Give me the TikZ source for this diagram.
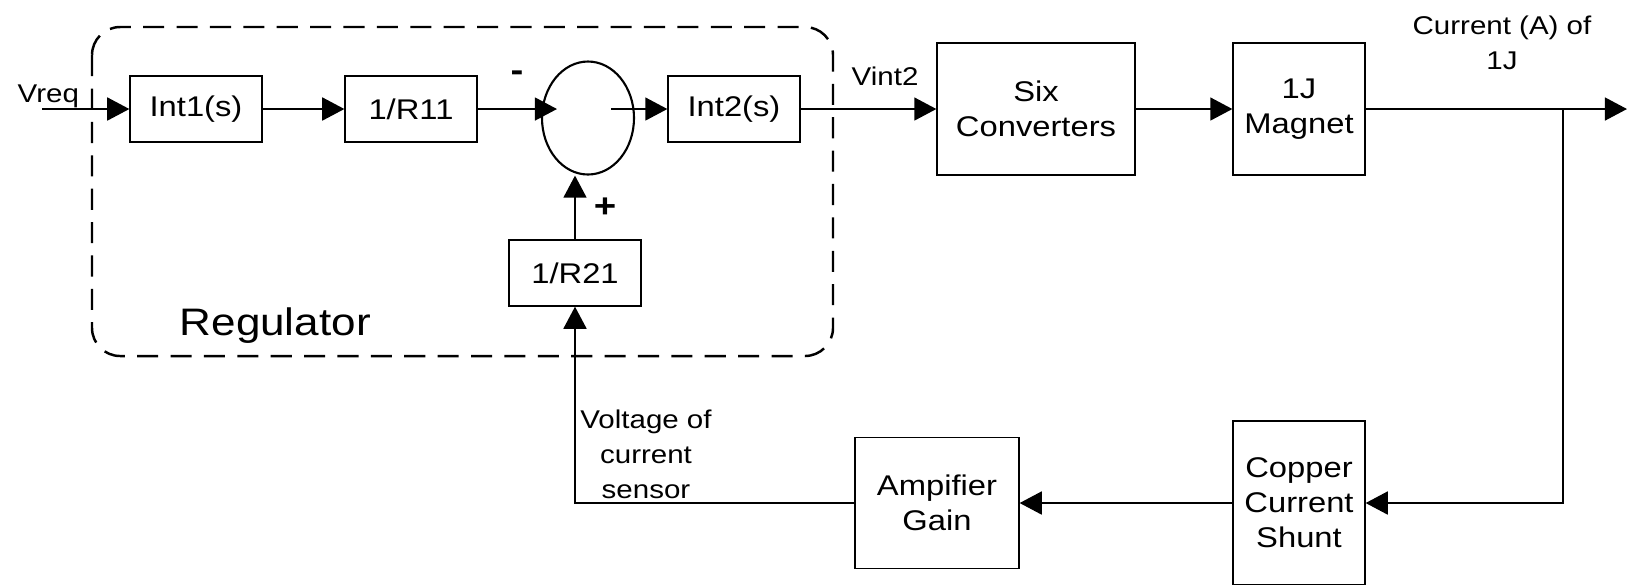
\documentclass[tikz,border=0pt]{standalone}
\usepackage{fontspec}
\setmainfont{Liberation Sans}[FakeStretch=1.15]
\usetikzlibrary{arrows.meta,shapes.geometric}

\begin{document}
\begin{tikzpicture}[x=0.1mm, y=-0.1mm, >={Triangle[length=6.3pt,width=6.5pt]},
    blk/.style={draw, line width=0.35pt, inner sep=0pt, align=center,
        font=\fontsize{8.1}{10}\selectfont},
    lbl/.style={inner sep=0pt, align=center, font=\fontsize{7.3}{10}\selectfont},
    sig/.style={->, line width=0.65pt}]

    \useasboundingbox (0,0) rectangle (1627,584);
    \clip (0,0) rectangle (1627,584);

    % 1. 调节器虚线框
    \draw[line width=0.7pt, dash pattern=on 6pt off 3.5pt, rounded corners=8pt]
        (92,27) rectangle (833,356);
    \node[inner sep=0pt, anchor=base west, font=\fontsize{10.9}{12}\selectfont] (reg) at (179,335) {Regulator};

    % 2. 方框
    \node[blk, minimum width=13.2mm, minimum height=6.6mm] (int1) at (196,109) {Int1(s)};
    \node[blk, minimum width=13.2mm, minimum height=6.6mm] (r11) at (411,109) {1/R11};
    \node[draw, ellipse, line width=0.6pt, inner sep=0pt,
        minimum width=9.2mm, minimum height=11.3mm] (sum) at (588,118) {};
    \node[blk, minimum width=13.2mm, minimum height=6.6mm] (int2) at (734,109) {Int2(s)};
    \node[blk, minimum width=13.2mm, minimum height=6.6mm] (r21) at (575,273) {1/R21};
    \node[blk, minimum width=19.8mm, minimum height=13.2mm] (six) at (1036,109) {Six\\Converters};
    \node[blk, minimum width=13.2mm, minimum height=13.2mm] (mag) at (1299,109) {1J\\Magnet};
    \node[blk, minimum width=13.2mm, minimum height=16.4mm] (shunt) at (1299,503) {Copper\\Current\\Shunt};
    \node[blk, minimum width=16.4mm, minimum height=13.1mm] (amp) at (937,503) {Ampifier\\Gain};

    % 3. 辅助点
    \coordinate (vin) at (42,109);      % 输入端
    \coordinate (sumin) at (557,109);   % 进入求和点
    \coordinate (sumout) at (611,109);  % 求和点输出
    \coordinate (branch) at (1563,109); % 分支点
    \coordinate (out) at (1627,109);    % 输出端

    % 4. 前向通道
    \draw[sig] (vin) -- (int1.west);
    \draw[sig] (int1.east) -- (r11.west);
    \draw[sig] (r11.east) -- (sumin);
    \draw[sig] (sumout) -- (int2.west);
    \draw[sig] (int2.east) -- (six.west);
    \draw[sig] (six.east) -- (mag.west);
    \draw[sig] (mag.east) -- (out);

    % 5. 反馈通道
    \draw[sig] (branch) |- (shunt.east);
    \draw[sig] (shunt.west) -- (amp.east);
    \draw[sig] (amp.west) -| (r21.south);
    \draw[sig] (r21.north) -- (r21.north |- sum.south);

    % 6. 标注
    \node[lbl, anchor=base west] (vreq) at (17,102) {Vreq};
    \node[lbl, anchor=base west] (vint) at (851,85) {Vint2};
    \node[lbl] (cur) at (1502,43) {Current (A) of\\1J};
    \node[lbl] (vsens) at (646,454) {Voltage of\\current\\sensor};
    \node[inner sep=0pt, font=\bfseries\fontsize{9.5}{10}\selectfont] (minus) at (517,76) {-};
    \node[inner sep=0pt, font=\bfseries\fontsize{9.5}{10}\selectfont] (plus) at (605,208) {+};

\end{tikzpicture}
\end{document}
